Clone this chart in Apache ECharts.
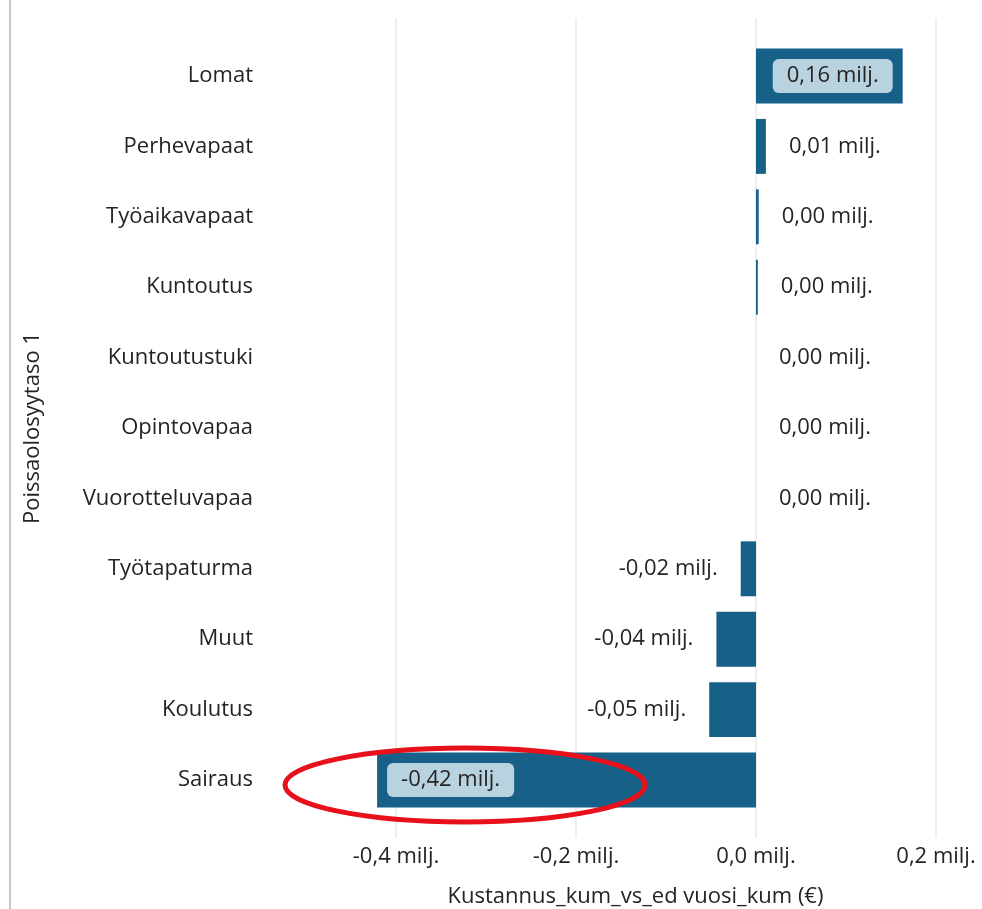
<!DOCTYPE html>
<html>
<head>
<meta charset="utf-8">
<script src="https://cdn.jsdelivr.net/npm/echarts@6/dist/echarts.min.js"></script>
<style>
html,body{margin:0;padding:0;background:#fff;}
#main{width:982px;height:909px;}
</style>
</head>
<body>
<div id="main"></div>
<script>
// Data (values in millions of euros)
const categories = ['Lomat','Perhevapaat','Työaikavapaat','Kuntoutus','Kuntoutustuki','Opintovapaa','Vuorotteluvapaa','Työtapaturma','Muut','Koulutus','Sairaus'];
const values = [0.163, 0.011, 0.003, 0.002, 0.0, 0.0, 0.0, -0.017, -0.044, -0.052, -0.421];
const highlighted = ['Lomat','Sairaus'];
const xTitle = 'Kustannus_kum_vs_ed vuosi_kum (€)';
const yTitle = 'Poissaolosyytaso 1';

const FONT = 'Open Sans';
const FS = 22;
const BAR = '#176189';
const TXT = '#252423';

function fmt(v){
  return v.toFixed(2).replace('.', ',') + ' milj.';
}
function fmtTick(v){
  return v.toFixed(1).replace('.', ',') + ' milj.';
}

const seriesData = values.map((v, i) => {
  const hi = highlighted.includes(categories[i]);
  let label;
  if (hi) {
    label = {
      show: true,
      position: v >= 0 ? 'insideRight' : 'insideLeft',
      distance: 10,
      backgroundColor: '#b9d2df',
      borderRadius: 6,
      padding: [6, 14, 6, 14],
      color: TXT
    };
  } else {
    label = {
      show: true,
      position: v >= 0 ? 'right' : 'left',
      distance: 23,
      color: TXT
    };
  }
  return { value: v, label };
});

const chart = echarts.init(document.getElementById('main'), null, {renderer: 'canvas'});
chart.setOption({
  animation: false,
  textStyle: { fontFamily: FONT },
  grid: [
    { left: 270, right: 1, top: 40.8, bottom: 93.8, containLabel: false, outerBoundsMode: 'none' },
    { left: 396, width: 540, top: 18, bottom: 71, containLabel: false, outerBoundsMode: 'none' }
  ],
  xAxis: [
    {
      gridIndex: 0, type: 'value', min: -0.54, max: 0.25,
      axisLine: {show: false}, axisTick: {show: false}, axisLabel: {show: false}, splitLine: {show: false},
      name: xTitle, nameLocation: 'middle', nameGap: 71,
      nameTextStyle: { fontSize: FS, color: TXT, fontFamily: FONT, padding: [0, 0, 0, 20] }
    },
    {
      gridIndex: 1, type: 'value', min: -0.4, max: 0.2, interval: 0.2,
      axisLine: {show: false}, axisTick: {show: false},
      axisLabel: { show: true, margin: 8, fontSize: FS, color: TXT, fontFamily: FONT, formatter: fmtTick,
                   showMinLabel: true, showMaxLabel: true },
      splitLine: { show: true, lineStyle: { color: '#eeeeee', width: 2 } }
    }
  ],
  yAxis: [
    {
      gridIndex: 0, type: 'category', data: categories, inverse: true,
      axisLine: {show: false}, axisTick: {show: false},
      axisLabel: { margin: 17, fontSize: FS, color: TXT, fontFamily: FONT },
      name: yTitle, nameLocation: 'middle', nameGap: 226, nameRotate: 90,
      nameTextStyle: { fontSize: FS, color: TXT, fontFamily: FONT }
    },
    {
      gridIndex: 1, type: 'value', show: false, min: 0, max: 1
    }
  ],
  series: [
    {
      type: 'bar', xAxisIndex: 0, yAxisIndex: 0,
      data: seriesData,
      barCategoryGap: '22%',
      itemStyle: { color: BAR },
      label: { fontSize: FS, fontFamily: FONT, formatter: p => fmt(p.value) }
    }
  ],
  graphic: [
    { type: 'line', shape: { x1: 10, y1: 0, x2: 10, y2: 909 }, style: { stroke: '#c8c8c8', lineWidth: 2 } },
    { type: 'ellipse', shape: { cx: 465, cy: 785, rx: 180, ry: 37 }, style: { fill: 'none', stroke: '#e8101a', lineWidth: 5 }, z: 100 }
  ]
});
</script>
</body>
</html>
